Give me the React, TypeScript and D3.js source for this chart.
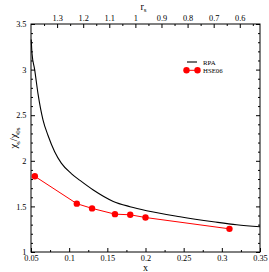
import * as d3 from "d3";
import { useEffect, useRef } from "react";

// RPA curve
const rpaX = [0.0503, 0.0513, 0.0548, 0.0591, 0.0657, 0.0722, 0.081, 0.0897, 0.1028, 0.1142, 0.1316, 0.1578, 0.1797, 0.2015, 0.2452, 0.2888, 0.3194, 0.35];
const rpaY = [3.33, 3.18, 3.0, 2.74, 2.45, 2.28, 2.1, 1.975, 1.86, 1.785, 1.68, 1.555, 1.497, 1.453, 1.387, 1.332, 1.298, 1.277];

// HSE06 points
const hseX = [0.055, 0.11, 0.13, 0.16, 0.18, 0.2, 0.31];
const hseY = [1.83, 1.53, 1.478, 1.415, 1.408, 1.378, 1.254];

const xTicks = [0.05, 0.1, 0.15, 0.2, 0.25, 0.3, 0.35];
const yTicks = [1, 1.5, 2, 2.5, 3, 3.5];
const rsTicks = [1.3, 1.2, 1.1, 1, 0.9, 0.8, 0.7, 0.6];

export default function App() {
  const ref = useRef<SVGSVGElement>(null);
  const width = 269;
  const height = 272;
  const m = { left: 31, right: 9, top: 24, bottom: 20 };

  useEffect(() => {
    const svg = d3.select(ref.current);
    svg.selectAll("*").remove();

    const x = d3.scaleLinear().domain([0.05, 0.35]).range([m.left, width - m.right]);
    const y = d3.scaleLinear().domain([1, 3.5]).range([height - m.bottom, m.top]);
    const rs = d3.scaleLinear().domain([1.4, 0.5225]).range([m.left, width - m.right]);

    const font = "'Liberation Serif', 'Times New Roman', serif";
    const fs = 8.3;

    const xMinor = d3.range(0.075, 0.35, 0.05);
    const yMinor = d3.range(1, 3.5, 0.1).filter((v) => Math.abs(v * 2 - Math.round(v * 2)) > 1e-6);
    const rsMinor = d3.range(1.35, 0.5, -0.1);

    const style = (g: any) => {
      g.select(".domain").remove();
      g.selectAll("line").attr("stroke", "#000").attr("stroke-width", 1);
      g.selectAll("text").attr("font-family", font).attr("font-size", fs).attr("fill", "#000");
    };

    const b = height - m.bottom;
    const r = width - m.right;

    // bottom
    svg.append("g").attr("transform", `translate(0,${b})`)
      .call(d3.axisBottom(x).tickValues(xTicks).tickSize(-4).tickPadding(3.5).tickFormat((d: any) => String(+d)))
      .call(style);
    svg.append("g").attr("transform", `translate(0,${b})`)
      .call(d3.axisBottom(x).tickValues(xMinor).tickSize(-2).tickFormat(() => ""))
      .call(style);
    // left
    svg.append("g").attr("transform", `translate(${m.left},0)`)
      .call(d3.axisLeft(y).tickValues(yTicks).tickSize(-4).tickPadding(4.5).tickFormat((d: any) => String(+d)))
      .call(style);
    svg.append("g").attr("transform", `translate(${m.left},0)`)
      .call(d3.axisLeft(y).tickValues(yMinor).tickSize(-2).tickFormat(() => ""))
      .call(style);
    // right
    svg.append("g").attr("transform", `translate(${r},0)`)
      .call(d3.axisRight(y).tickValues(yTicks).tickSize(-4).tickFormat(() => ""))
      .call(style);
    svg.append("g").attr("transform", `translate(${r},0)`)
      .call(d3.axisRight(y).tickValues(yMinor).tickSize(-2).tickFormat(() => ""))
      .call(style);
    // top (r_s)
    svg.append("g").attr("transform", `translate(0,${m.top})`)
      .call(d3.axisTop(rs).tickValues(rsTicks).tickSize(-4).tickPadding(3).tickFormat((d: any) => String(+d)))
      .call(style);
    svg.append("g").attr("transform", `translate(0,${m.top})`)
      .call(d3.axisTop(rs).tickValues(rsMinor).tickSize(-2).tickFormat(() => ""))
      .call(style);

    // frame
    svg.append("rect")
      .attr("x", m.left).attr("y", m.top)
      .attr("width", r - m.left).attr("height", b - m.top)
      .attr("fill", "none").attr("stroke", "#000").attr("stroke-width", 1);

    // RPA
    const rpa = rpaX.map((v, i) => [v, rpaY[i]] as [number, number]);
    const line = d3.line<[number, number]>().x((d) => x(d[0])).y((d) => y(d[1])).curve(d3.curveMonotoneX);
    svg.append("path").attr("d", line(rpa)).attr("fill", "none").attr("stroke", "#000").attr("stroke-width", 1.1);

    // HSE06
    const hse = hseX.map((v, i) => [v, hseY[i]] as [number, number]);
    const lin = d3.line<[number, number]>().x((d) => x(d[0])).y((d) => y(d[1]));
    svg.append("path").attr("d", lin(hse)).attr("fill", "none").attr("stroke", "#ff0000").attr("stroke-width", 1);
    svg.append("g").selectAll("circle").data(hse).join("circle")
      .attr("cx", (d) => x(d[0])).attr("cy", (d) => y(d[1])).attr("r", 3.2).attr("fill", "#ff0000");

    // legend
    const lg = svg.append("g").attr("font-family", font).attr("font-size", 6.8);
    lg.append("line").attr("x1", 187).attr("x2", 197).attr("y1", 62).attr("y2", 62).attr("stroke", "#000").attr("stroke-width", 1.1);
    lg.append("text").attr("x", 203).attr("y", 64.5).text("RPA");
    lg.append("line").attr("x1", 186.5).attr("x2", 197.5).attr("y1", 70.3).attr("y2", 70.3).attr("stroke", "#ff0000");
    lg.selectAll("circle").data([186.5, 197.5]).join("circle")
      .attr("cx", (d) => d).attr("cy", 70.3).attr("r", 3.2).attr("fill", "#ff0000");
    lg.append("text").attr("x", 203).attr("y", 72.8).text("HSE06");

    // axis titles
    svg.append("text").attr("x", (m.left + r) / 2).attr("y", 270.5)
      .attr("text-anchor", "middle").attr("font-family", font).attr("font-size", 10).text("x");
    const rt = svg.append("text").attr("x", (m.left + r) / 2 - 2).attr("y", 9.5)
      .attr("text-anchor", "middle").attr("font-family", font).attr("font-size", 10);
    rt.append("tspan").text("r");
    rt.append("tspan").attr("font-size", 7).attr("dy", 2.5).text("s");

    const yt = svg.append("text")
      .attr("transform", `translate(17,${(m.top + b) / 2}) rotate(-90)`)
      .attr("text-anchor", "middle").attr("font-family", font).attr("font-size", 10.5);
    yt.append("tspan").text("χ");
    yt.append("tspan").attr("font-size", 7).attr("dy", 2.5).text("s");
    yt.append("tspan").attr("dy", -2.5).text("/χ");
    yt.append("tspan").attr("font-size", 7).attr("dy", 2.5).text("0s");
  }, []);

  return (
    <div style={{ position: "fixed", left: 0, top: 0, background: "#fff", color: "#000" }}>
      <svg ref={ref} width={width} height={height} style={{ display: "block" }} />
    </div>
  );
}
